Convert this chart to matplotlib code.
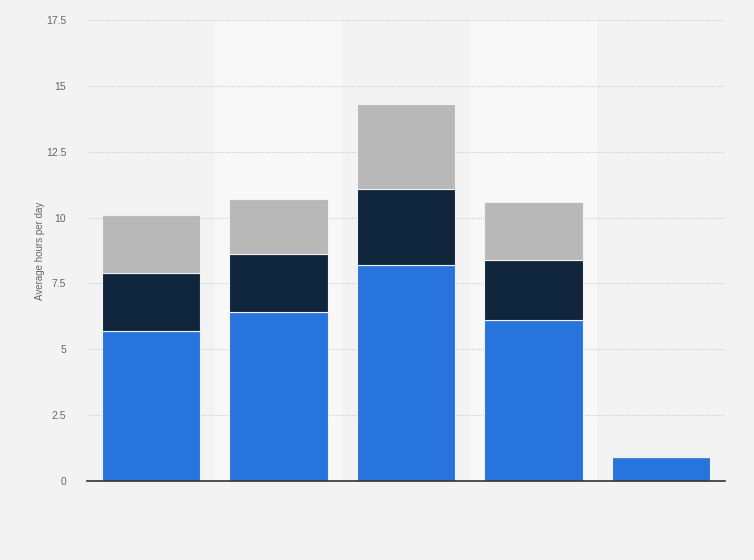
import numpy as np
import matplotlib
matplotlib.use("Agg")
import matplotlib.pyplot as plt

plt.rcParams["font.family"] = ["Liberation Sans", "DejaVu Sans"]

# stacked segments per bar (hours per day), bottom to top
positions = [0, 1, 2, 3, 4]
seg_blue = [5.7, 6.4, 8.2, 6.1, 0.9]
seg_navy = [2.2, 2.2, 2.9, 2.3, 0.0]
seg_gray = [2.2, 2.1, 3.2, 2.2, 0.0]
yticks = [0, 2.5, 5, 7.5, 10, 12.5, 15, 17.5]
ytick_labels = ["0", "2.5", "5", "7.5", "10", "12.5", "15", "17.5"]

COL_BLUE, COL_NAVY, COL_GRAY = "#2775dc", "#0f263c", "#b8b8b8"
BG = "#f3f3f3"

fig = plt.figure(figsize=(7.54, 5.6), dpi=100, facecolor=BG)
ax = fig.add_axes([87 / 754, 79 / 560, 638 / 754, 461 / 560])
ax.set_facecolor(BG)

# lighter alternate bands behind categories 2 and 4
for p in positions[1::2]:
    ax.axvspan(p - 0.5, p + 0.5, color="#f8f8f8", zorder=0, lw=0)

ax.set_xlim(-0.5, 4.5)
ax.set_ylim(0, 17.5)
ax.set_yticks(yticks)
ax.set_yticklabels(ytick_labels)
ax.yaxis.grid(True, color="#cfcfcf", linestyle=(0, (1, 1)), linewidth=0.8, zorder=1)
ax.set_axisbelow(True)

w = 0.77
blue = np.array(seg_blue)
navy = np.array(seg_navy)
gray = np.array(seg_gray)
kw = dict(width=w, edgecolor="#f2f2f2", linewidth=0.8, zorder=3)
ax.bar(positions, blue, color=COL_BLUE, **kw)
ax.bar(positions, navy, bottom=blue, color=COL_NAVY, **kw)
ax.bar(positions, gray, bottom=blue + navy, color=COL_GRAY, **kw)

for s in ("top", "right", "left"):
    ax.spines[s].set_visible(False)
ax.spines["bottom"].set_color("#333333")
ax.spines["bottom"].set_linewidth(1.2)
ax.spines["bottom"].set_zorder(4)

ax.set_xticks([])
ax.tick_params(axis="y", length=0, pad=15, labelsize=7.5, labelcolor="#666666")
ax.set_ylabel("Average hours per day", fontsize=7, color="#666666")
ax.yaxis.set_label_coords(-42 / 638, 0.5)

fig.savefig("out.png", dpi=100, facecolor=BG)
